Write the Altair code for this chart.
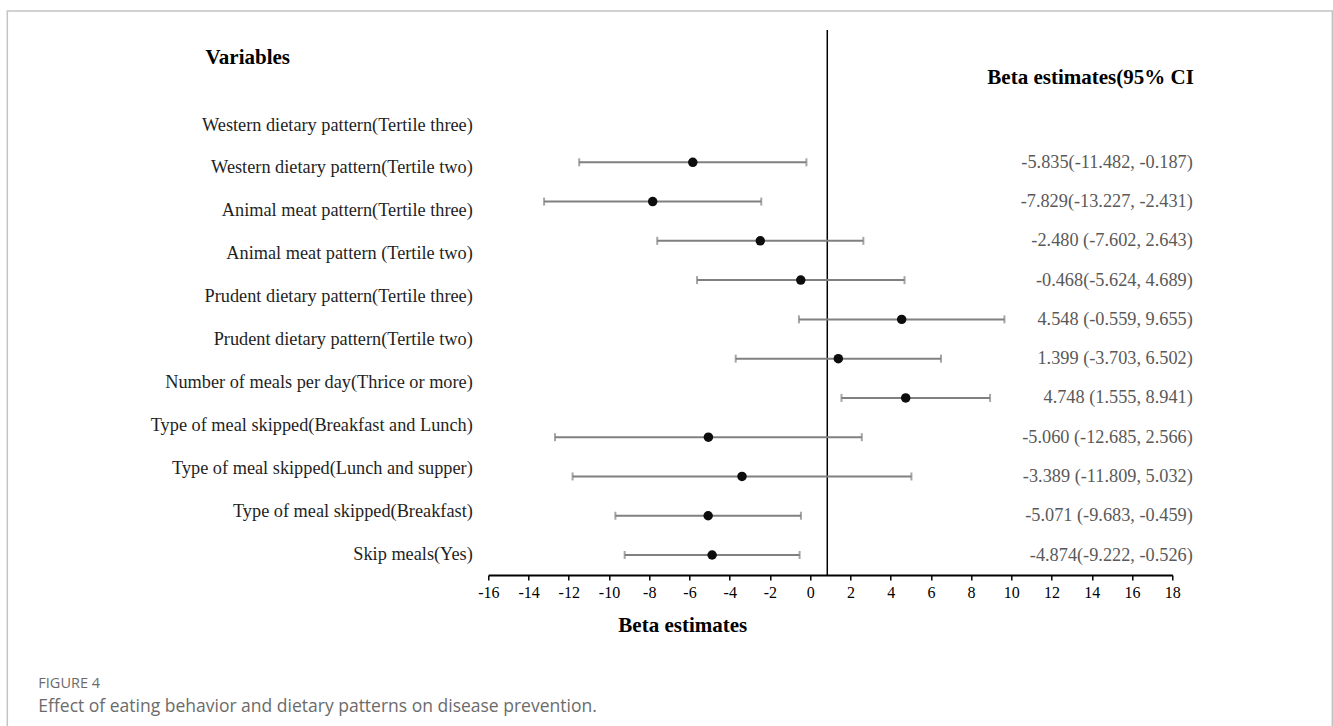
import altair as alt
import pandas as pd

# ---------------- data ----------------
variables = [
    "Western dietary pattern(Tertile three)",
    "Western dietary pattern(Tertile two)",
    "Animal meat pattern(Tertile three)",
    "Animal meat pattern (Tertile two)",
    "Prudent dietary pattern(Tertile three)",
    "Prudent dietary pattern(Tertile two)",
    "Number of meals per day(Thrice or more)",
    "Type of meal skipped(Breakfast and Lunch)",
    "Type of meal skipped(Lunch and supper)",
    "Type of meal skipped(Breakfast)",
    "Skip meals(Yes)",
]
beta = [-5.835, -7.829, -2.480, -0.468, 4.548, 1.399, 4.748, -5.060, -3.389, -5.071, -4.874]
lower = [-11.482, -13.227, -7.602, -5.624, -0.559, -3.703, 1.555, -12.685, -11.809, -9.683, -9.222]
upper = [-0.187, -2.431, 2.643, 4.689, 9.655, 6.502, 8.941, 2.566, 5.032, -0.459, -0.526]
ci_text = [
    "-5.835(-11.482, -0.187)",
    "-7.829(-13.227, -2.431)",
    "-2.480 (-7.602, 2.643)",
    "-0.468(-5.624, 4.689)",
    "4.548 (-0.559, 9.655)",
    "1.399 (-3.703, 6.502)",
    "4.748 (1.555, 8.941)",
    "-5.060 (-12.685, 2.566)",
    "-3.389 (-11.809, 5.032)",
    "-5.071 (-9.683, -0.459)",
    "-4.874(-9.222, -0.526)",
]
x_ticks = list(range(-16, 19, 2))
ref_line = [0.85]
caption_label = ["FIGURE 4"]
caption_text = ["Effect of eating behavior and dietary patterns on disease prevention."]

df = pd.DataFrame({"Variable": variables, "Beta": beta, "Lower": lower,
                   "Upper": upper, "CI": ci_text})

SERIF = "Liberation Serif"
SANS = "Open Sans"

x_scale = alt.Scale(domain=[-16, 18], nice=False, zero=False)
x_axis = alt.Axis(
    values=x_ticks, labelExpr="'' + datum.value", grid=False,
    labelFlush=False, labelOverlap=False,
    title="Beta estimates", titleX=194, titleY=50, titleAlign="center",
    titleBaseline="middle", titleFont=SERIF, titleFontSize=21,
    titleFontWeight="bold", titleColor="#000000",
    labelFont=SERIF, labelFontSize=16, labelColor="#000000", labelPadding=4,
    tickSize=5, tickColor="#000000", tickWidth=1.5,
    domainColor="#000000", domainWidth=2,
)

label_y = alt.Y(
    "Variable:N", sort=None,
    scale=alt.Scale(type="point", range=[95, 524], padding=0),
    axis=alt.Axis(
        orient="left", title="Variables", titleAngle=0, titleX=-241, titleY=27,
        titleAlign="center", titleBaseline="middle", titleFont=SERIF,
        titleFontSize=21, titleFontWeight="bold", titleColor="#000000",
        labelFont=SERIF, labelFontSize=18.3, labelColor="#1f1f1f",
        labelPadding=16, labelLimit=500, ticks=False, tickSize=0,
        domain=False, grid=False,
    ),
)

ci_y = alt.Y(
    "CI:N", sort=None,
    scale=alt.Scale(type="point", range=[132.3, 525], padding=0),
    axis=alt.Axis(
        orient="right", title="Beta estimates(95% CI", titleAngle=0,
        titleX=21, titleY=47, titleAlign="right", titleBaseline="middle",
        titleFont=SERIF, titleFontSize=21, titleFontWeight="bold",
        titleColor="#000000",
        labelFont=SERIF, labelFontSize=18.3, labelColor="#595959",
        labelAlign="right", labelPadding=20, labelLimit=500,
        ticks=False, tickSize=0, domain=False, grid=False,
    ),
)

base = alt.Chart(df)

labels_layer = base.mark_point(opacity=0).encode(y=label_y, x=alt.value(0))

err = base.mark_rule(color="#808080", strokeWidth=2).encode(
    x=alt.X("Lower:Q", scale=x_scale, axis=x_axis), x2="Upper:Q", y=ci_y)
cap_lo = base.mark_tick(color="#808080", thickness=2, size=8).encode(
    x=alt.X("Lower:Q", scale=x_scale, axis=x_axis), y=ci_y)
cap_hi = base.mark_tick(color="#808080", thickness=2, size=8).encode(
    x=alt.X("Upper:Q", scale=x_scale, axis=x_axis), y=ci_y)
pts = base.mark_circle(size=90, color="#0d0d0d", opacity=1).encode(
    x=alt.X("Beta:Q", scale=x_scale, axis=x_axis), y=ci_y)
vline = alt.Chart(pd.DataFrame({"ref": ref_line})).mark_rule(
    color="#000000", strokeWidth=1.5).encode(
    x=alt.X("ref:Q", scale=x_scale, axis=x_axis))

data_group = alt.layer(vline, err, cap_lo, cap_hi, pts)

# decorative page frame and figure caption (outside the plot area)
frame = alt.Chart(pd.DataFrame({"f": [0]})).mark_rect(
    fillOpacity=0, stroke="#c4c4c4", strokeWidth=1.5).encode(
    x=alt.value(-481), x2=alt.value(844), y=alt.value(-19), y2=alt.value(710))

cap1 = alt.Chart(pd.DataFrame({"t": caption_label})).mark_text(
    align="left", baseline="middle", font=SANS, fontSize=14.5, color="#6b6b6b"
).encode(text="t:N", x=alt.value(-450), y=alt.value(654))
cap2 = alt.Chart(pd.DataFrame({"t": caption_text})).mark_text(
    align="left", baseline="middle", font=SANS, fontSize=17.5, color="#6b6b6b"
).encode(text="t:N", x=alt.value(-450), y=alt.value(677))

chart = alt.layer(frame, cap1, cap2, labels_layer, data_group).resolve_scale(
    y="independent").properties(
    width=684, height=545,
    padding={"left": 488.3, "top": 30, "right": 160.7, "bottom": 151},
    autosize=alt.AutoSizeParams(type="none"),
    background="white",
).configure_view(stroke="transparent")

chart.save("out.html", embed_options={"renderer": "svg", "actions": False})
